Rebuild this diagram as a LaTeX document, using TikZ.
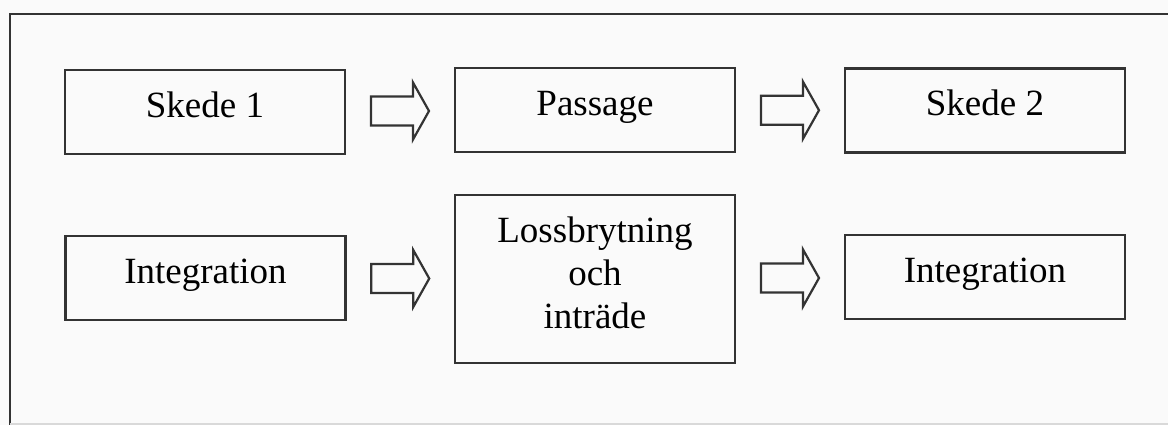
\documentclass[tikz,border=0pt]{standalone}
\usepackage{fontspec}
\setmainfont{Liberation Serif}
\usetikzlibrary{calc}

% hollow block arrow between two boxes
\newcommand\hollowarrow[2]{%
	\draw [ink, shift={($(#1.east)!.5!(#2.west)$)}] (-29,-14.5) -- (13,-14.5) -- (13,-28.5) -- (29,0) -- (13,28.5) -- (13,14.5) -- (-29,14.5) -- cycle;}

\begin{document}
\begin{tikzpicture}[x=.5pt,y=-.5pt,
		ink/.style={draw=black!80,line width=1.1pt,line join=miter},
		stage/.style={ink,minimum width=140pt,minimum height=42pt,inner sep=0pt,align=center,font=\fontsize{18.5}{21.5}\selectfont},
		oneline/.style={stage,text height=12.5pt,text depth=7.5pt}]
		\useasboundingbox [fill=black!2] (0,0) rectangle (1168,425);
		\draw [ink] (1168,14) -- (10,14) -- (10,425);
		\draw [black!15,line width=1pt] (10,424) -- (1168,424);
		
		% upper row
		\node [oneline] (s1) at (205,112) {Skede 1};
		\node [oneline] (pass) at (595,110) {Passage};
		\node [oneline] (s2) at (985,110.5) {Skede 2};
		
		% lower row
		\node [oneline] (int1) at (205.5,278) {Integration};
		\node [stage,minimum height=84pt] (loss) at (595,279) {Lossbrytning\\och\\inträde\rule[-6.5pt]{0pt}{6.5pt}};
		\node [oneline] (int2) at (985,277) {Integration};
		
		\hollowarrow{s1}{pass} \hollowarrow{pass}{s2}
		\hollowarrow{int1}{loss} \hollowarrow{loss}{int2}
\end{tikzpicture}
\end{document}
